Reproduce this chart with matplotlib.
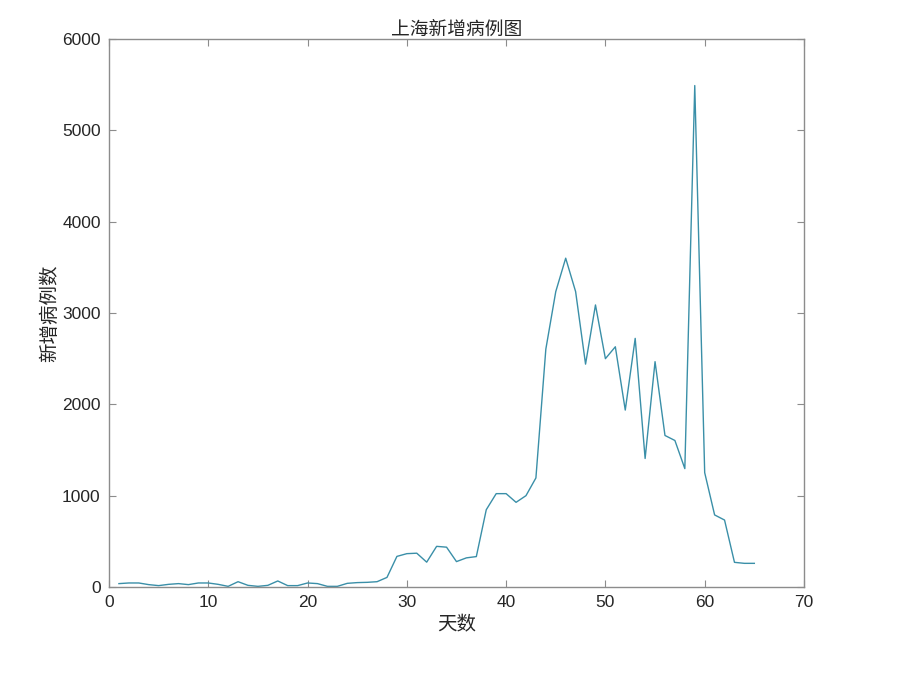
import numpy as np
import matplotlib
matplotlib.use("Agg")
import matplotlib.pyplot as plt

plt.rcParams['font.family'] = ['Liberation Sans', 'Noto Sans CJK SC', 'DejaVu Sans']

# dias y casos nuevos
dias = np.arange(1, 66)
casos = [37, 44, 44, 26, 15, 29, 37, 26, 44, 44,
         29, 7, 58, 18, 7, 18, 66, 15, 15, 44,
         37, 7, 7, 40, 48, 51, 58, 105, 335, 365,
         370, 272, 445, 436, 278, 319, 333, 846, 1022, 1022,
         927, 1000, 1194, 2604, 3234, 3600, 3234, 2440, 3088, 2500,
         2630, 1937, 2722, 1407, 2467, 1659, 1604, 1296, 5490, 1252,
         789, 733, 270, 259, 259]

fig = plt.figure(figsize=(9, 6.79), dpi=100)
ax = fig.add_axes([0.1211, 0.1355, 0.7722, 0.8071])
ax.plot(dias, casos, color="#3a8fa8", linewidth=1.0)

ax.set_xlim(0, 70)
ax.set_ylim(0, 6000)
ax.set_xticks(range(0, 71, 10))
ax.set_yticks(range(0, 6001, 1000))

for s in ax.spines.values():
    s.set_color("#8c8c8c")
    s.set_linewidth(1.0)
ax.tick_params(direction="in", top=True, right=True, length=5, width=0.8,
               color="#8c8c8c", labelcolor="#262626", labelsize=12.5, pad=6)

ax.set_title("上海新增病例图", fontsize=13.5, color="#262626", pad=3)
ax.set_xlabel("天数", fontsize=14, color="#262626", labelpad=4)
ax.set_ylabel("新增病例数", fontsize=14, color="#262626", labelpad=2)

plt.savefig("out.png", dpi=100)
